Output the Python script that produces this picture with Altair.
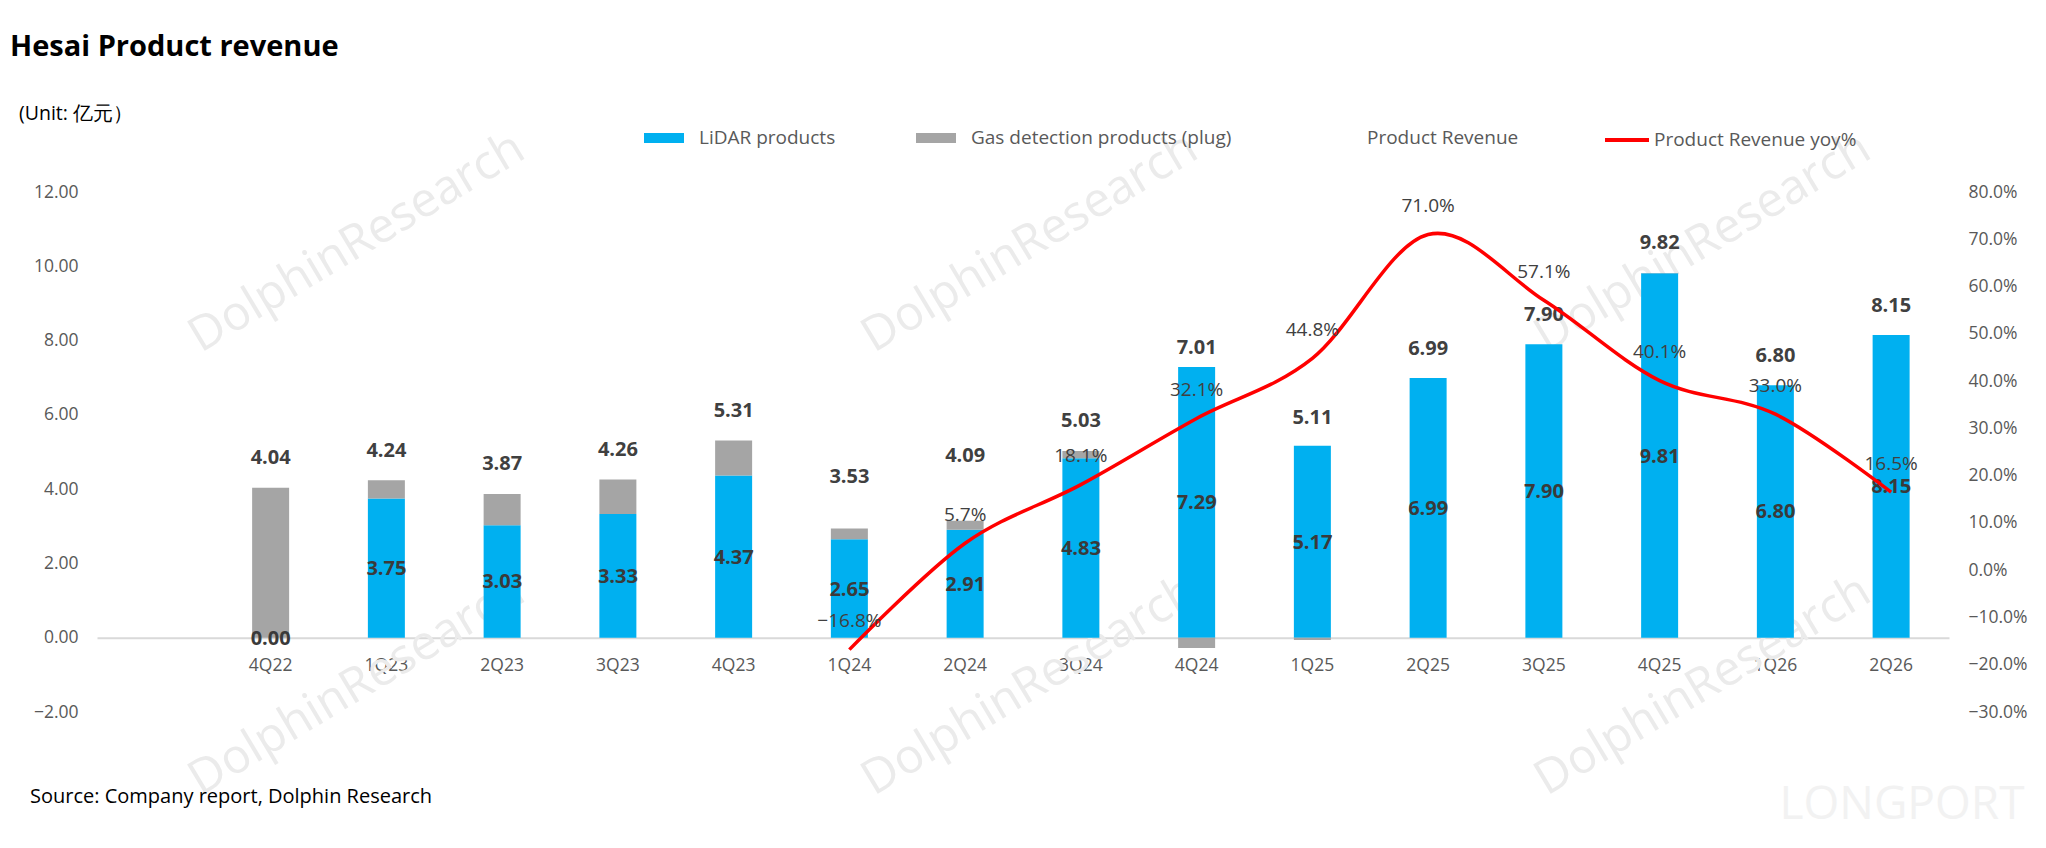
import altair as alt
import pandas as pd

# ---------------- data ----------------
quarters = ["4Q22", "1Q23", "2Q23", "3Q23", "4Q23", "1Q24", "2Q24", "3Q24",
            "4Q24", "1Q25", "2Q25", "3Q25", "4Q25", "1Q26", "2Q26"]
lidar = [0.00, 3.75, 3.03, 3.33, 4.37, 2.65, 2.91, 4.83, 7.29, 5.17, 6.99, 7.90, 9.81, 6.80, 8.15]
gas = [4.04, 0.49, 0.84, 0.93, 0.94, 0.29, 0.24, 0.20, -0.28, -0.06, 0.00, 0.00, 0.01, 0.00, 0.00]
total = [4.04, 4.24, 3.87, 4.26, 5.31, 3.53, 4.09, 5.03, 7.01, 5.11, 6.99, 7.90, 9.82, 6.80, 8.15]
yoy_quarters = ["1Q24", "2Q24", "3Q24", "4Q24", "1Q25", "2Q25", "3Q25", "4Q25", "1Q26", "2Q26"]
yoy = [-0.168, 0.057, 0.181, 0.321, 0.448, 0.710, 0.571, 0.401, 0.330, 0.165]

series_names = ["LiDAR products", "Gas detection products (plug)", "Product Revenue"]
series_colors = ["#00B0F0", "#A5A5A5", "rgba(255,255,255,0)"]
line_name = "Product Revenue yoy%"
x_domain = [" "] + quarters  # leading empty category slot as in the source chart
left_ticks = [-2, 0, 2, 4, 6, 8, 10, 12]
right_ticks = [-0.3, -0.2, -0.1, 0.0, 0.1, 0.2, 0.3, 0.4, 0.5, 0.6, 0.7, 0.8]

TITLE = "Hesai Product revenue"
UNIT = "(Unit: 亿元）"
SOURCE = "Source: Company report, Dolphin Research"
WATERMARK = "DolphinResearch"
LOGO = "LONGPORT"

rev = pd.DataFrame({"quarter": quarters, "lidar": lidar, "gas": gas, "total": total})
stack_df = pd.concat([
    pd.DataFrame({"quarter": quarters, "series": series_names[0], "value": lidar, "order": 0}),
    pd.DataFrame({"quarter": quarters, "series": series_names[1], "value": gas, "order": 1}),
], ignore_index=True)
yoy_df = pd.DataFrame({"quarter": yoy_quarters, "yoy": yoy, "series": line_name})

FONT = "Open Sans"
W, H = 1852, 520
AXIS_FS = 17.5

# ---------------- scales / axes ----------------
xscale = alt.Scale(domain=x_domain, paddingInner=0, paddingOuter=0)
xaxis = alt.Axis(title=None, orient="bottom", offset=-74.3, ticks=False, tickSize=0,
                 domainColor="#D9D9D9", domainWidth=2, labelAngle=0,
                 labelBaseline="middle", labelPadding=27.6, labelFontSize=AXIS_FS,
                 labelColor="#595959", labelFont=FONT, grid=False)
x_enc = alt.X("quarter:N", scale=xscale, axis=xaxis)

yL = alt.Scale(domain=[-2, 12], nice=False, zero=False)
yL_axis = alt.Axis(title=None, values=left_ticks, format=".2f", domain=False, ticks=False,
                   tickSize=0, grid=False, labelPadding=19, labelFontSize=AXIS_FS,
                   labelColor="#595959", labelFont=FONT)
yR = alt.Scale(domain=[-0.3, 0.8], nice=False, zero=False)
yR_axis = alt.Axis(title=None, orient="right", values=right_ticks, format=".1%", domain=False,
                   ticks=False, tickSize=0, grid=False, labelPadding=19,
                   labelFontSize=AXIS_FS, labelColor="#595959", labelFont=FONT)

bar_legend = alt.Legend(title=None, orient="none", legendX=547, legendY=-64,
                        direction="horizontal", symbolType="M-2,-0.5H2V0.5H-2Z",
                        symbolSize=400, symbolOffset=10, labelOffset=25,
                        symbolStrokeWidth=0, columnPadding=80, labelFontSize=19,
                        labelColor="#595959", labelFont=FONT, labelLimit=500, padding=0)
line_legend = alt.Legend(title=None, orient="none", legendX=1506, legendY=-76,
                         direction="horizontal", symbolType="stroke", symbolSize=1936,
                         symbolStrokeWidth=4, labelOffset=3, labelFontSize=19,
                         labelColor="#595959", labelFont=FONT, labelLimit=500, padding=0)

# ---------------- left (revenue) layers ----------------
bars = alt.Chart(stack_df).mark_bar(size=37).encode(
    x=x_enc,
    y=alt.Y("value:Q", stack="zero", scale=yL, axis=yL_axis),
    color=alt.Color("series:N", scale=alt.Scale(domain=series_names, range=series_colors),
                    legend=bar_legend),
    order=alt.Order("order:Q"),
)
lidar_text = alt.Chart(rev).transform_calculate(mid="datum.lidar / 2").mark_text(
    fontSize=20, fontWeight="bold", color="#3A3A3A", baseline="middle", dy=1, font=FONT
).encode(
    x=x_enc,
    y=alt.Y("mid:Q", scale=yL, axis=yL_axis),
    text=alt.Text("lidar:Q", format=".2f"),
)
total_text = alt.Chart(rev).mark_text(
    fontSize=20, fontWeight="bold", color="#404040", baseline="middle", dy=-29.5, font=FONT
).encode(
    x=x_enc,
    y=alt.Y("total:Q", scale=yL, axis=yL_axis),
    text=alt.Text("total:Q", format=".2f"),
)
left = alt.layer(bars, lidar_text, total_text)

# ---------------- right (yoy) layers ----------------
line = alt.Chart(yoy_df).mark_line(strokeWidth=3.5, interpolate="cardinal", tension=0).encode(
    x=x_enc,
    y=alt.Y("yoy:Q", scale=yR, axis=yR_axis),
    stroke=alt.Stroke("series:N", scale=alt.Scale(domain=[line_name], range=["#FF0000"]),
                      legend=line_legend),
)
yoy_text = alt.Chart(yoy_df).mark_text(
    fontSize=19, color="#404040", baseline="middle", dy=-28.5, font=FONT
).encode(
    x=x_enc,
    y=alt.Y("yoy:Q", scale=yR, axis=yR_axis),
    text=alt.Text("yoy:Q", format=".1%"),
)
right = alt.layer(line, yoy_text)

# ---------------- static texts ----------------
def static_text(txt, x, y, **kw):
    return alt.Chart(pd.DataFrame({"t": [txt]})).mark_text(font=FONT, **kw).encode(
        x=alt.value(x), y=alt.value(y), text="t:N")

wm_layers = []
for cx in [260, 933, 1606]:
    for cy in [51, 494]:
        wm_layers.append(static_text(WATERMARK, cx, cy, fontSize=48, color="#EBEBEB",
                                     angle=329, align="center", baseline="middle"))
wm_layers.append(static_text(LOGO, 1805, 613, fontSize=46, color="#F2F2F2",
                             align="center", baseline="middle"))

title = static_text(TITLE, -87, -136, fontSize=29, fontWeight="bold", color="#000000",
                    align="left", baseline="alphabetic")
unit = static_text(UNIT, -78, -78.4, fontSize=19.5, color="#000000", align="left",
                   baseline="middle")
source = static_text(SOURCE, -67, 605, fontSize=20, color="#000000", align="left",
                     baseline="middle")

chart = alt.layer(*wm_layers, left, right, title, unit, source).resolve_scale(
    y="independent"
).properties(
    width=W, height=H,
    autosize=alt.AutoSizeParams(type="none"),
    padding={"left": 89, "top": 184, "right": 89, "bottom": 120},
    background="white",
).configure(font=FONT, view=alt.ViewConfig(stroke=None))

chart.save("out.html", embed_options={"renderer": "svg", "actions": False})
